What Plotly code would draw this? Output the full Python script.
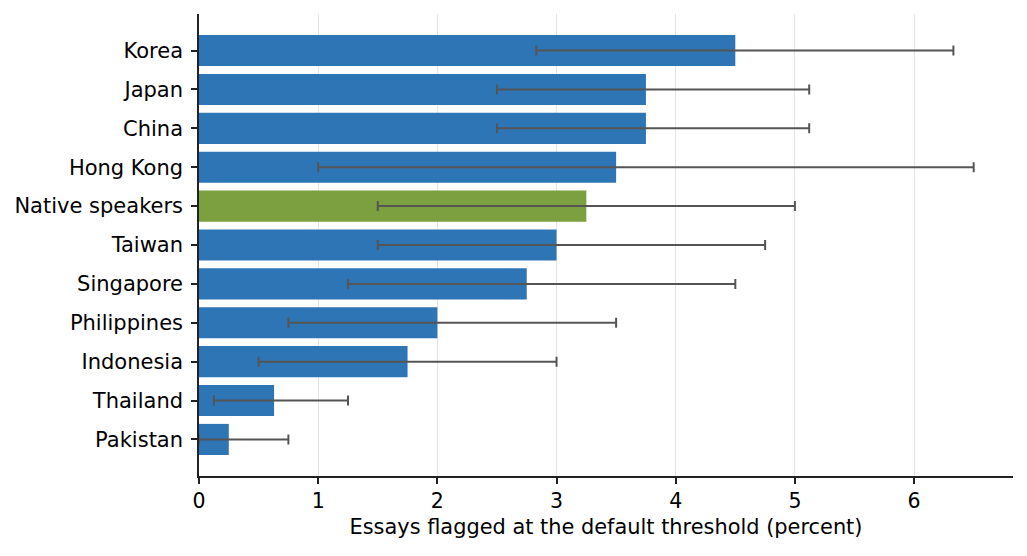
import plotly.graph_objects as go

# groups listed top to bottom as in the chart
groups = ["Korea", "Japan", "China", "Hong Kong", "Native speakers", "Taiwan",
          "Singapore", "Philippines", "Indonesia", "Thailand", "Pakistan"]
flagged_pct = [4.5, 3.75, 3.75, 3.5, 3.25, 3.0, 2.75, 2.0, 1.75, 0.63, 0.25]
ci_low = [2.83, 2.5, 2.5, 1.0, 1.5, 1.5, 1.25, 0.75, 0.5, 0.125, 0.0]
ci_high = [6.33, 5.12, 5.12, 6.5, 5.0, 4.75, 4.5, 3.5, 3.0, 1.25, 0.75]

highlight = "Native speakers"
blue = "#2E75B6"
green = "#7CA03F"
colors = [green if g == highlight else blue for g in groups]

err_plus = [h - v for h, v in zip(ci_high, flagged_pct)]
err_minus = [v - l for v, l in zip(flagged_pct, ci_low)]

fig = go.Figure()
fig.add_trace(go.Bar(
    x=flagged_pct, y=groups, orientation="h",
    marker=dict(color=colors, line=dict(width=0)),
    error_x=dict(type="data", symmetric=False, array=err_plus, arrayminus=err_minus,
                 color="#555555", thickness=2, width=5),
))

# page has an 8px body margin, so the figure is a bit smaller than the window
fig.update_layout(
    width=1019, height=548,
    margin=dict(l=191, r=14, t=6, b=80),
    plot_bgcolor="white", paper_bgcolor="white",
    font=dict(family="DejaVu Sans", size=21, color="black"),
    bargap=0.2, showlegend=False,
)
fig.update_xaxes(
    range=[0, 6.83], tickvals=[0, 1, 2, 3, 4, 5, 6],
    showgrid=True, gridcolor="#e3e3ea", gridwidth=1, zeroline=False,
    showline=True, linecolor="#222222", linewidth=1.5,
    ticks="outside", ticklen=6, tickwidth=1.5, tickcolor="#222222",
    tickfont=dict(size=20.5),
    title=dict(text="Essays flagged at the default threshold (percent)",
               font=dict(size=20.9), standoff=7),
)
fig.update_yaxes(
    type="category", categoryorder="array", categoryarray=groups,
    range=[len(groups) - 1 + 0.94, -0.94],
    showgrid=False, zeroline=False,
    showline=True, linecolor="#222222", linewidth=1.5,
    ticks="outside", ticklen=6, tickwidth=1.5, tickcolor="#222222",
    ticklabelstandoff=4,
)

fig.write_html("out.html")
